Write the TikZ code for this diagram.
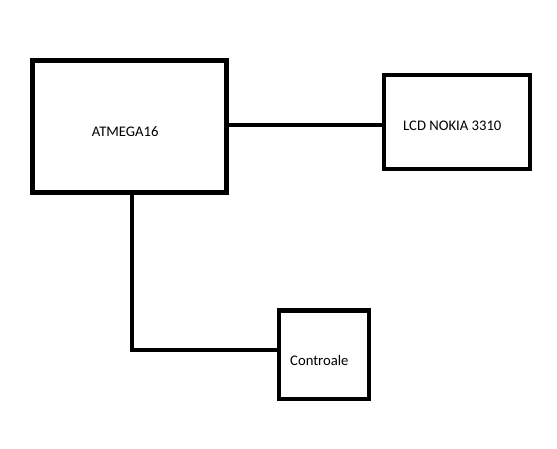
\documentclass[tikz,border=0pt]{standalone}
\usepackage{fontspec}
\setmainfont{Carlito}
\begin{document}
\begin{tikzpicture}[x=1pt,y=-1pt,
  blk/.style={draw=black,line width=4.5pt,fill=white,inner sep=0pt,minimum width=#1},
  lbl/.style={anchor=base west,inner sep=0pt,font=\fontsize{14.67}{17}\selectfont},
  wire/.style={draw=black,line width=4.5pt}]
\useasboundingbox[fill=white] (0,0) rectangle (557,448);
\node[blk=194pt,minimum height=132pt] (atm) at (129.5,126.5) {};
\node[blk=146pt,minimum height=94pt] (lcd) at (457,122) {};
\node[blk=90pt,minimum height=88.5pt] (ctl) at (324,354.75) {};
\node[lbl] (atmt) at (91.7,136) {ATMEGA16};
\node[lbl] (lcdt) at (403,130) {LCD NOKIA 3310};
\node[lbl] (ctlt) at (290,365) {Controale};
\draw[wire] ([yshift=1.5pt]atm.east) -- ([yshift=1.5pt]atm.east -| lcd.west);
\draw[wire] ([xshift=2.5pt]atm.south) |- ([yshift=4.75pt]ctl.west);
\end{tikzpicture}
\end{document}
